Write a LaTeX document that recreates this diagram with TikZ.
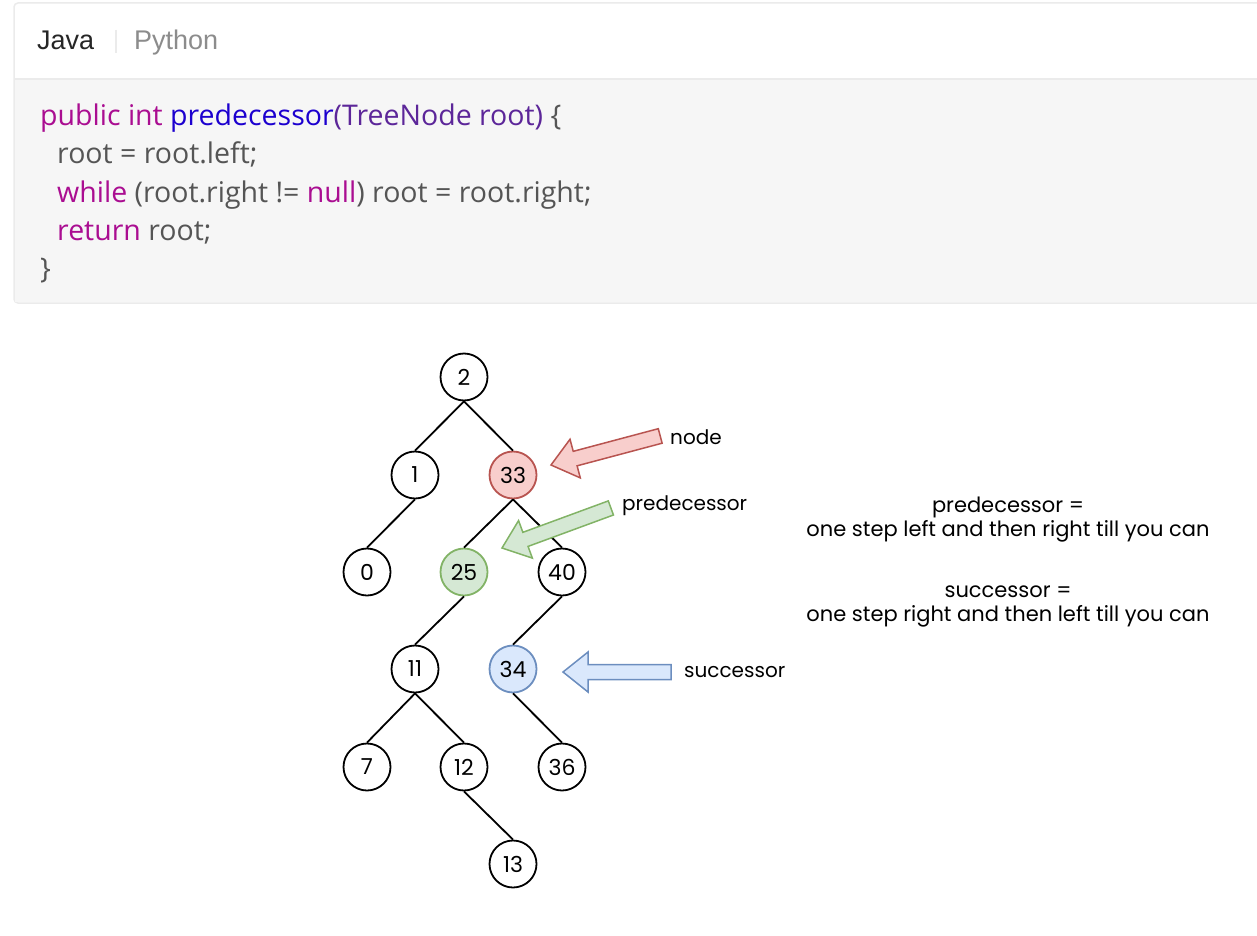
\documentclass[tikz,border=0pt]{standalone}
\usepackage{fontspec}
\setmainfont{Open Sans}
\newfontfamily\tabfont{Liberation Sans}
\newfontfamily\handfont{Poppins}

\definecolor{kwcol}{HTML}{AA0D91}
\definecolor{fncol}{HTML}{1C00CF}
\definecolor{tycol}{HTML}{5C2699}
\definecolor{codegray}{HTML}{555555}
\definecolor{panelline}{HTML}{EBEBEB}
\definecolor{codebg}{HTML}{F6F6F6}
\definecolor{redfill}{HTML}{F8CECC}
\definecolor{redline}{HTML}{B85450}
\definecolor{greenfill}{HTML}{D5E8D4}
\definecolor{greenline}{HTML}{82B366}
\definecolor{bluefill}{HTML}{DAE8FC}
\definecolor{blueline}{HTML}{6C8EBF}

\newcommand{\kw}[1]{\textcolor{kwcol}{#1}}
% fat arrow: #1 tip, #2 angle, #3 length, #4 fill, #5 line
\newcommand{\fatarrow}[5]{%
    \draw[line width=1.5pt, fill=#4, draw=#5, line join=miter, shift={#1}, rotate=#2]
        (0,0) -- (25,-20) -- (25,-7.5) -- (#3,-7.5) -- (#3,7.5) -- (25,7.5) -- (25,20) -- cycle;}

\begin{document}
\begin{tikzpicture}[x=1pt, y=-1pt,
    tnode/.style={circle, draw=black, line width=1.8pt, minimum size=47pt, inner sep=0pt, fill=white,
        font=\handfont\fontsize{22}{22}\selectfont},
    edge/.style={line width=1.8pt},
    codeline/.style={anchor=base west, inner sep=0pt, text=codegray,
        font=\fontsize{28.5}{30}\selectfont},
    lbl/.style={anchor=west, inner sep=0pt, font=\handfont\fontsize{20}{22}\selectfont}]
    \useasboundingbox (0,0) rectangle (1257,936);

    % code panel
    \draw[panelline, line width=1.5pt, fill=white, rounded corners=4pt] (14,3) rectangle (1290,303);
    \fill[codebg] (15,80) rectangle (1290,302);
    \draw[panelline, line width=1.5pt] (14,79) -- (1290,79);
    \node[anchor=base west, inner sep=0pt, font=\tabfont\fontsize{27}{30}\selectfont, text=black!85] (java) at (37,50) {Java};
    \node[anchor=base west, inner sep=0pt, font=\tabfont\fontsize{27}{30}\selectfont, text=black!45] (python) at (134,50) {Python};
    \draw[panelline, line width=1.5pt] (116,30) -- (116,53);

    \node[codeline] (l1) at (40,126) {\kw{public int} \textcolor{fncol}{predecessor}\textcolor{tycol}{(TreeNode root)} \{};
    \node[codeline] (l2) at (57,164) {root = root.left;};
    \node[codeline] (l3) at (57,202) {\kw{while} (root.right != \kw{null}) root = root.right;};
    \node[codeline] (l4) at (57,240) {\kw{return} root;};
    \node[codeline] (l5) at (40,278) {\}};

    % tree
    \node[tnode] (n2) at (464,377) {2};
    \node[tnode] (n1) at (415,475) {1};
    \node[tnode, fill=redfill, draw=redline] (n33) at (513,475) {33};
    \node[tnode] (n0) at (367,572) {0};
    \node[tnode, fill=greenfill, draw=greenline] (n25) at (464,572) {25};
    \node[tnode] (n40) at (562,572) {40};
    \node[tnode] (n11) at (415,669) {11};
    \node[tnode, fill=bluefill, draw=blueline] (n34) at (513,669) {34};
    \node[tnode] (n7) at (367,767) {7};
    \node[tnode] (n12) at (464,767) {12};
    \node[tnode] (n36) at (562,767) {36};
    \node[tnode] (n13) at (513,864) {13};

    \foreach \a/\b in {n2/n1, n2/n33, n1/n0, n33/n25, n33/n40, n25/n11, n40/n34, n11/n7, n11/n12, n34/n36, n12/n13}
        \draw[edge] (\a.south) -- (\b.north);

    % arrows and labels
    \fatarrow{(551,465)}{14.9}{113}{redfill}{redline}
    \fatarrow{(502,548)}{20.2}{116}{greenfill}{greenline}
    \fatarrow{(563,672)}{0}{108}{bluefill}{blueline}
    \node[lbl] (lnode) at (670,437) {node};
    \node[lbl] (lpred) at (622,506) {predecessor};
    \node[lbl] (lsucc) at (684,672) {successor};

    \node[align=center, inner sep=0pt, font=\handfont\fontsize{21}{24}\selectfont] (rule1) at (1008,520)
        {predecessor =\\one step left and then right till you can};
    \node[align=center, inner sep=0pt, font=\handfont\fontsize{21}{24}\selectfont] (rule2) at (1008,606)
        {successor =\\one step right and then left till you can};
\end{tikzpicture}
\end{document}
